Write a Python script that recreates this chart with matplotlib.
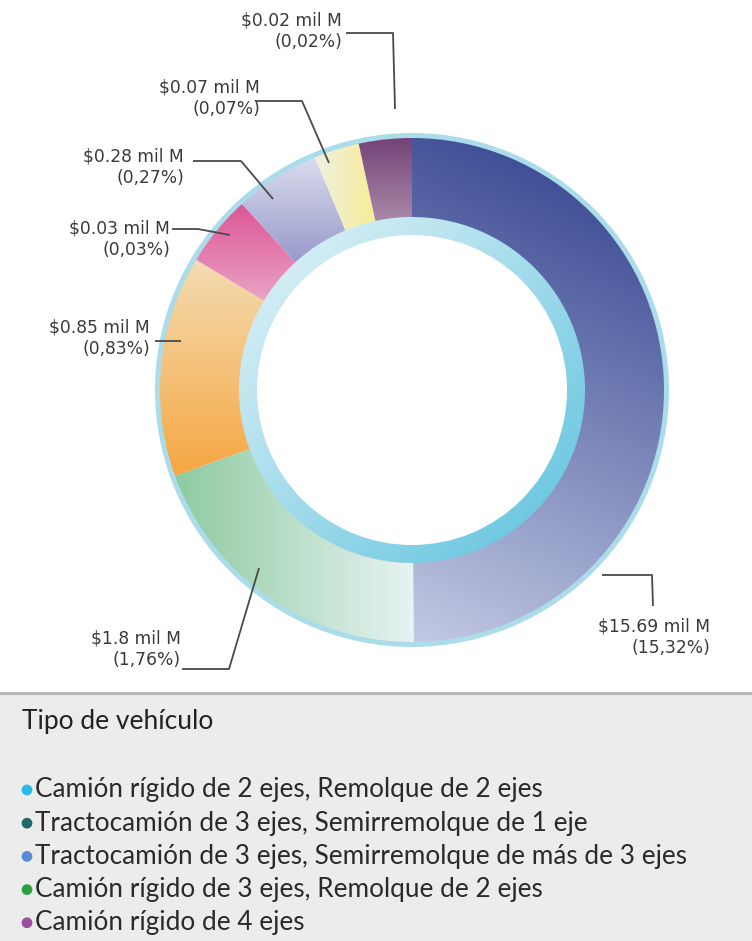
import numpy as np
import matplotlib
matplotlib.use("Agg")
import matplotlib.pyplot as plt
from matplotlib.colors import to_rgb
from matplotlib.patches import Rectangle, Wedge

# ---------------- data ----------------
slice_names = ["Tractocamión 3 ejes, Semirremolque >3 ejes", "Camión rígido 3 ejes, Remolque 2 ejes",
               "Camión rígido 2 ejes, Remolque 2 ejes", "Tractocamión 3 ejes, Semirremolque 1 eje",
               "Camión rígido 4 ejes", "Otro A", "Otro B"]
# angular share of each ring segment as drawn (%)
slice_shares = [50.0, 19.6, 14.2, 4.6, 5.5, 2.9, 3.4]
value_labels = ["$15.69 mil M", "$1.8 mil M", "$0.85 mil M", "$0.03 mil M",
                "$0.28 mil M", "$0.07 mil M", "$0.02 mil M"]
pct_labels = ["(15,32%)", "(1,76%)", "(0,83%)", "(0,03%)", "(0,27%)", "(0,07%)", "(0,02%)"]

legend_title = "Tipo de vehículo"
legend_labels = ["Camión rígido de 2 ejes, Remolque de 2 ejes",
                 "Tractocamión de 3 ejes, Semirremolque de 1 eje",
                 "Tractocamión de 3 ejes, Semirremolque de más de 3 ejes",
                 "Camión rígido de 3 ejes, Remolque de 2 ejes",
                 "Camión rígido de 4 ejes"]
legend_colors = ["#2bb8ea", "#1f6b6c", "#5a8bd2", "#2aa043", "#9a4f9f"]

# gradient (start colour, end colour, direction angle in degrees, screen coords)
grad_start = ["#2a3a8a", "#8ecaa0", "#f3dcb2", "#dc5594", "#dadded", "#eef2de", "#744276"]
grad_end = ["#c3cae3", "#e8f3f3", "#f6a742", "#eaa3c6", "#9899cb", "#f8ec98", "#aa8aaa"]
grad_dir = [-115, 0, -90, -90, -90, 0, -90]

W, H = 752, 941
fig = plt.figure(figsize=(W / 100, H / 100), dpi=100)
ax = fig.add_axes([0, 0, 1, 1])

cx, cy = 412, H - 390
R_out = 253
ring_w = 81
R_in = R_out - ring_w

def gradient_image(ax, clip, c0, c1, ang, extent):
    x0, x1, y0, y1 = extent
    n = 300
    xs = np.linspace(x0, x1, n)
    ys = np.linspace(y0, y1, n)
    X, Y = np.meshgrid(xs, ys)
    a = np.deg2rad(ang)
    t = X * np.cos(a) + Y * np.sin(a)
    t = (t - t.min()) / (t.max() - t.min())
    c0 = np.array(to_rgb(c0)); c1 = np.array(to_rgb(c1))
    img = c0[None, None, :] * (1 - t[..., None]) + c1[None, None, :] * t[..., None]
    im = ax.imshow(img, extent=extent, origin="lower", interpolation="bilinear", zorder=2)
    im.set_clip_path(clip)
    return im

wedges, _ = ax.pie(slice_shares, radius=R_out, center=(cx, cy), startangle=90, counterclock=False,
                   wedgeprops=dict(width=ring_w, edgecolor="none", linewidth=0), frame=True)

# outer light border ring
ax.add_patch(Wedge((cx, cy), R_out + 4, 0, 360, width=5, facecolor="#aadcea",
                   edgecolor="none", zorder=4))

for i, w in enumerate(wedges):
    w.set_facecolor("none")
    w.set_zorder(3)
    bb = w.get_path().get_extents()
    ext = (bb.x0, bb.x1, bb.y0, bb.y1)
    gradient_image(ax, w, grad_start[i], grad_end[i], grad_dir[i], ext)

# inner light-blue ring
inner = Wedge((cx, cy), R_in + 1, 0, 360, width=18, facecolor="none", edgecolor="none")
ax.add_patch(inner)
gradient_image(ax, inner, "#e6f4f8", "#5cc2de", -45,
               (cx - R_in - 1, cx + R_in + 1, cy - R_in - 1, cy + R_in + 1))

ax.set_xlim(0, W)
ax.set_ylim(0, H)
ax.set_aspect("equal")
ax.axis("off")

# labels (right-aligned, two lines) and leader lines in screen coordinates
lab_xy = [(710, 626), (181, 638), (150, 327), (170, 228), (184, 156), (260, 87), (342, 20)]
leaders = [
    [(602, 575), (652, 575), (653, 606)],
    [(182, 669), (229, 669), (259, 568)],
    [(155, 341), (181, 341)],
    [(172, 229), (198, 229), (230, 235)],
    [(193, 161), (241, 161), (273, 199)],
    [(256, 101), (302, 101), (329, 163)],
    [(346, 33), (393, 33), (395, 109)],
]
lab_font = ["DejaVu Sans"]
for i in range(len(value_labels)):
    x, y = lab_xy[i]
    ax.text(x, H - y, value_labels[i], ha="right", va="center", fontsize=12.3,
            color="#3a3a3a", family=lab_font, zorder=5)
    ax.text(x, H - y - 22, pct_labels[i], ha="right", va="center", fontsize=12.3,
            color="#3a3a3a", family=lab_font, zorder=5)
    pts = leaders[i]
    ax.plot([p[0] for p in pts], [H - p[1] for p in pts], color="#4a4a4a", lw=1.3,
            solid_capstyle="butt", zorder=6)

# legend panel
ax.add_patch(Rectangle((0, 0), W, H - 693, facecolor="#ececec", edgecolor="none", zorder=0))
ax.plot([0, W], [H - 693, H - 693], color="#b8b8b8", lw=2.2, zorder=1)
leg_font = ["Lato", "DejaVu Sans"]
ax.text(22, H - 722, legend_title, ha="left", va="center", fontsize=19, color="#222222",
        family=leg_font)
for i, (lab, col) in enumerate(zip(legend_labels, legend_colors)):
    y = H - (790 + i * 33.2)
    ax.scatter([27], [y], s=60, color=col, zorder=3, edgecolors="none")
    ax.text(35, y, lab, ha="left", va="center", fontsize=18.8, color="#2a2a2a", family=leg_font)

fig.savefig("out.png", dpi=100)
